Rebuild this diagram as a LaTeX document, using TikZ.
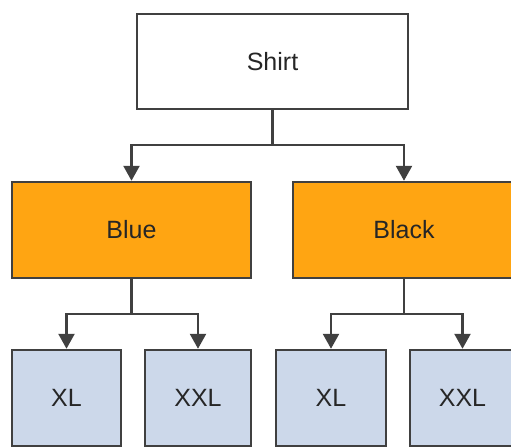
\documentclass[tikz,border=0pt]{standalone}
\usepackage{fontspec}
\setmainfont{Liberation Sans}
\usetikzlibrary{arrows.meta}
\definecolor{edge}{HTML}{404040}
\definecolor{orangefill}{HTML}{FFA512}
\definecolor{bluefill}{HTML}{CCD8EA}
\tikzset{
  box/.style={draw=edge, line width=2.5pt, rectangle, inner sep=0pt, font=\fontsize{25}{30}\selectfont, text=black!85},
  top/.style={box, fill=white},
  mid/.style={box, fill=orangefill},
  leaf/.style={box, fill=bluefill},
  stem/.style={draw=edge, line width=2.5pt},
  conn/.style={stem, -{Triangle[width=16pt,length=15pt]}}
}
\begin{document}
\begin{tikzpicture}[x=1pt,y=-1pt]
\useasboundingbox (0,0) rectangle (511,447);
\clip (0,0) rectangle (511,447);
\node[top, minimum width=271pt, minimum height=95pt] (shirt) at (272.5,61.5) {Shirt};
\node[mid, minimum width=239pt, minimum height=96pt] (blue) at (131.5,230) {Blue};
\node[mid, minimum width=222pt, minimum height=96pt] (black) at (404,230) {Black};
\node[leaf, minimum width=109pt, minimum height=96pt] (xl1) at (66.5,398) {XL};
\node[leaf, minimum width=106pt, minimum height=96pt] (xxl1) at (198,398) {XXL};
\node[leaf, minimum width=110pt, minimum height=96pt] (xl2) at (331,398) {XL};
\node[leaf, minimum width=105pt, minimum height=96pt] (xxl2) at (462.5,398) {XXL};
\coordinate (j0) at (272.5,145);
\coordinate (j1) at (131.5,314);
\coordinate (j2) at (404,314);
\draw[stem] (shirt.south) -- (j0);
\draw[conn] (j0) -| (blue.north);
\draw[conn] (j0) -| (black.north);
\draw[stem] (blue.south) -- (j1);
\draw[conn] (j1) -| (xl1.north);
\draw[conn] (j1) -| (xxl1.north);
\draw[stem] (black.south) -- (j2);
\draw[conn] (j2) -| (xl2.north);
\draw[conn] (j2) -| (xxl2.north);
\end{tikzpicture}
\end{document}
